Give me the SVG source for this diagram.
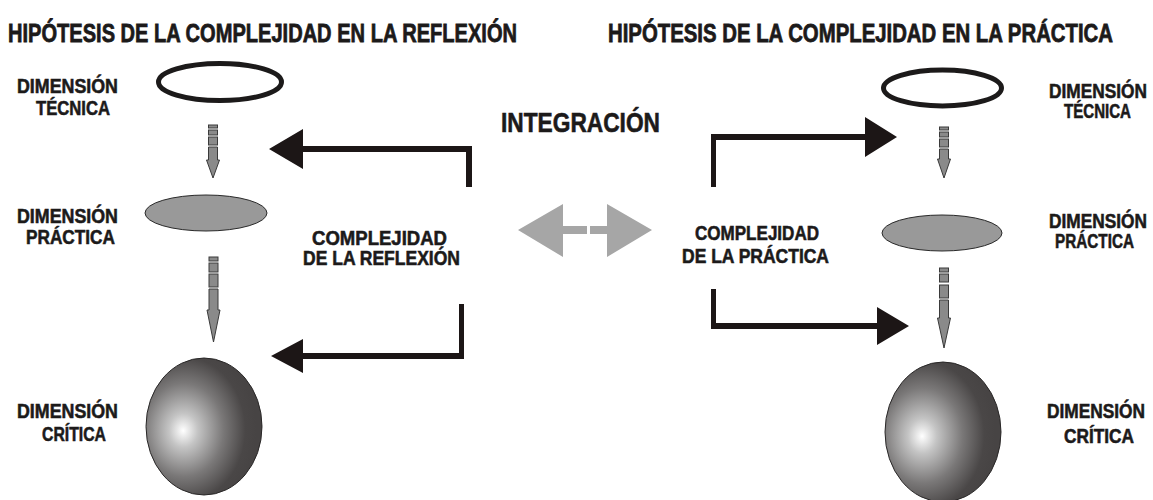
<svg xmlns="http://www.w3.org/2000/svg" width="1153" height="500" viewBox="0 0 1153 500">
<defs>
<radialGradient id="sph" cx="0.33" cy="0.52" r="0.62" fx="0.32" fy="0.53">
<stop offset="0" stop-color="#ffffff"/>
<stop offset="0.2" stop-color="#c4c4c4"/>
<stop offset="0.55" stop-color="#7a7878"/>
<stop offset="0.85" stop-color="#4a4747"/>
<stop offset="1" stop-color="#474444"/>
</radialGradient>
<style>
.title{font-family:"Liberation Sans",Arial,sans-serif;font-weight:bold;font-size:20px;fill:#1c1a1a;stroke:#1c1a1a;stroke-width:0.6}
.lbl{font-family:"Liberation Sans",Arial,sans-serif;font-weight:bold;font-size:17.5px;fill:#1c1a1a;stroke:#1c1a1a;stroke-width:0.5}
.big{font-family:"Liberation Sans",Arial,sans-serif;font-weight:bold;font-size:27px;fill:#1c1a1a;stroke:#1c1a1a;stroke-width:0.6}
.ring{fill:none;stroke:#1c1a1a;stroke-width:5}
.disc{fill:#999999;stroke:#2a2a2a;stroke-width:1}
.sphere{fill:url(#sph);stroke:#2a2828;stroke-width:1}
.dash{fill:#8a8a8a;stroke:#3a3a3a;stroke-width:1}
.blk{fill:#1c1616}
.gry{fill:#a6a6a6}
</style>
</defs>
<rect width="1153" height="500" fill="#ffffff"/>

<g id="title-left"><text class="title" transform="translate(8,42) scale(1,1.3)" x="0" y="0" textLength="509" lengthAdjust="spacingAndGlyphs">HIPÓTESIS DE LA COMPLEJIDAD EN LA REFLEXIÓN</text></g>
<g id="title-right"><text class="title" transform="translate(608,42) scale(1,1.3)" x="0" y="0" textLength="505" lengthAdjust="spacingAndGlyphs">HIPÓTESIS DE LA COMPLEJIDAD EN LA PRÁCTICA</text></g>

<g id="left-tecnica">
<ellipse class="ring" cx="220" cy="82" rx="61.5" ry="18.5"/>
<text class="lbl" transform="translate(17,93) scale(1,1.12)" textLength="101" lengthAdjust="spacingAndGlyphs">DIMENSIÓN</text>
<text class="lbl" transform="translate(36,115) scale(1,1.12)" textLength="74" lengthAdjust="spacingAndGlyphs">TÉCNICA</text>
</g>
<g id="left-practica">
<ellipse class="disc" cx="206" cy="213" rx="61" ry="18"/>
<text class="lbl" transform="translate(17,223) scale(1,1.12)" textLength="101" lengthAdjust="spacingAndGlyphs">DIMENSIÓN</text>
<text class="lbl" transform="translate(26,244) scale(1,1.12)" textLength="89" lengthAdjust="spacingAndGlyphs">PRÁCTICA</text>
</g>
<g id="left-critica">
<ellipse class="sphere" cx="204" cy="426.5" rx="58" ry="68.5"/>
<text class="lbl" transform="translate(17,418) scale(1,1.12)" textLength="101" lengthAdjust="spacingAndGlyphs">DIMENSIÓN</text>
<text class="lbl" transform="translate(42,441) scale(1,1.12)" textLength="64" lengthAdjust="spacingAndGlyphs">CRÍTICA</text>
</g>

<g id="right-tecnica">
<ellipse class="ring" cx="942.5" cy="88" rx="59" ry="18"/>
<text class="lbl" transform="translate(1049,98) scale(1,1.12)" textLength="98" lengthAdjust="spacingAndGlyphs">DIMENSIÓN</text>
<text class="lbl" transform="translate(1064,118) scale(1,1.12)" textLength="67" lengthAdjust="spacingAndGlyphs">TÉCNICA</text>
</g>
<g id="right-practica">
<ellipse class="disc" cx="942" cy="233" rx="60" ry="18"/>
<text class="lbl" transform="translate(1049,228) scale(1,1.12)" textLength="98" lengthAdjust="spacingAndGlyphs">DIMENSIÓN</text>
<text class="lbl" transform="translate(1055,248) scale(1,1.12)" textLength="79" lengthAdjust="spacingAndGlyphs">PRÁCTICA</text>
</g>
<g id="right-critica">
<ellipse class="sphere" cx="943" cy="432" rx="58" ry="70"/>
<text class="lbl" transform="translate(1047,418) scale(1,1.12)" textLength="98" lengthAdjust="spacingAndGlyphs">DIMENSIÓN</text>
<text class="lbl" transform="translate(1064,443) scale(1,1.12)" textLength="70" lengthAdjust="spacingAndGlyphs">CRÍTICA</text>
</g>

<g id="complejidad-reflexion">
<text class="lbl" transform="translate(312,245) scale(1,1.12)" textLength="135" lengthAdjust="spacingAndGlyphs">COMPLEJIDAD</text>
<text class="lbl" transform="translate(303,265) scale(1,1.12)" textLength="157" lengthAdjust="spacingAndGlyphs">DE LA REFLEXIÓN</text>
</g>
<g id="complejidad-practica">
<text class="lbl" transform="translate(695,240) scale(1,1.12)" textLength="124" lengthAdjust="spacingAndGlyphs">COMPLEJIDAD</text>
<text class="lbl" transform="translate(682,263) scale(1,1.12)" textLength="147" lengthAdjust="spacingAndGlyphs">DE LA PRÁCTICA</text>
</g>
<g id="integracion">
<text class="big" x="501" y="132" textLength="159" lengthAdjust="spacingAndGlyphs">INTEGRACIÓN</text>
</g>

<g id="connectors">
<g id="dashed-left-1" class="dash">
<rect x="208.5" y="125" width="9" height="3"/>
<rect x="208.5" y="130" width="9" height="5"/>
<rect x="208.5" y="137" width="9" height="8"/>
<path d="M208.5,147 H217.5 V160 H219.5 L213,178 L206.5,160 H208.5 Z"/>
</g>
<g id="dashed-left-2" class="dash">
<rect x="209" y="257" width="9" height="4"/>
<rect x="209" y="263" width="9" height="9"/>
<rect x="209" y="274" width="9" height="13"/>
<path d="M209,289 H218 V310 H220 L213.5,342 L207,310 H209 Z"/>
</g>
<g id="dashed-right-1" class="dash">
<rect x="939.5" y="127" width="9" height="3"/>
<rect x="939.5" y="132" width="9" height="5"/>
<rect x="939.5" y="139" width="9" height="8"/>
<path d="M939.5,149 H948.5 V159 H950.5 L944,178 L937.5,159 H939.5 Z"/>
</g>
<g id="dashed-right-2" class="dash">
<rect x="939.5" y="268" width="9" height="4"/>
<rect x="939.5" y="274" width="9" height="8"/>
<rect x="939.5" y="285" width="9" height="13"/>
<path d="M939.5,300 H948.5 V318 H950.5 L944,348 L937.5,318 H939.5 Z"/>
</g>
<path class="blk" d="M472,187 H466 V152 H303 V169 L269,149 L303,129 V146 H472 Z"/>
<path class="blk" d="M459,304 H464 V359 H303 V373 L271,356 L303,339 V353 H459 Z"/>
<path class="blk" d="M711,187 V134 H865 V117 L897,137 L865,157 V140 H716 V187 Z"/>
<path class="blk" d="M711,289 H716 V323 H877 V307 L909,326 L877,345 V329 H711 Z"/>
<path class="gry" d="M518,230 L563,204 V226 H587 V234 H563 V257 Z"/>
<path class="gry" d="M652,230 L607,204 V226 H590 V234 H607 V257 Z"/>
</g>
</svg>
